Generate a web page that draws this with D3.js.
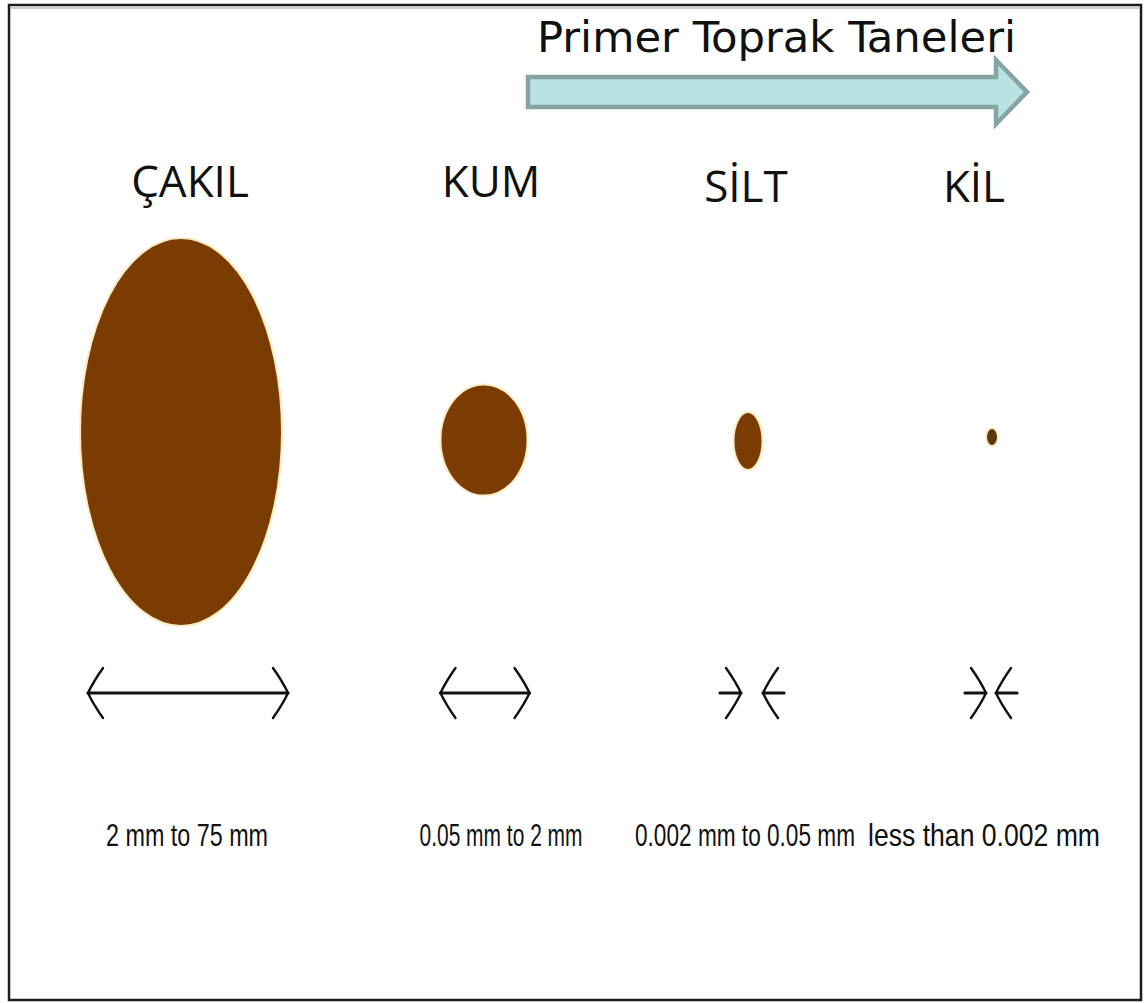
<!DOCTYPE html>
<html lang="tr">
<head>
<meta charset="UTF-8">
<title>Primer Toprak Taneleri</title>
<script src="https://cdn.jsdelivr.net/npm/d3@7"></script>
<style>
    html, body {
        margin: 0;
        background: #fff;
    }
    svg { display: block; }
</style>
</head>
<body>
<div id="chart"></div>
<script>
    // grain classes, left to right
    const categories = ["ÇAKIL", "KUM", "SİLT", "KİL"];
    const sizeRanges = ["2 mm to 75 mm", "0.05 mm to 2 mm", "0.002 mm to 0.05 mm", "less than 0.002 mm"];
    // drawn grain size (width / height of the dot, picture units)
    const grainWidth = [202, 87, 29, 12];
    const grainHeight = [388, 111, 58, 18];
    // width arrows under each grain
    const arrowSpan = [200, 89, 22, 10];
    const arrowKind = ["out", "out", "in", "in"];
    const title = "Primer Toprak Taneleri";

    const width = 1145;
    const height = 1003;

    // column layout (picture is not evenly spaced)
    const layout = {
        dotX: [181, 484, 748, 992],
        dotY: [432, 440, 441, 437],
        labelX: [190, 491, 746, 974],
        labelY: [197, 197, 202, 202],
        arrowX: [188, 485, 752, 991],
        captionX: [187, 501, 745, 984],
        captionW: [162, 163, 220, 232]
    };

    const dotX = d3.scaleOrdinal().domain(categories).range(layout.dotX);
    const dotY = d3.scaleOrdinal().domain(categories).range(layout.dotY);
    const labelX = d3.scaleOrdinal().domain(categories).range(layout.labelX);
    const labelY = d3.scaleOrdinal().domain(categories).range(layout.labelY);
    const arrowX = d3.scaleOrdinal().domain(categories).range(layout.arrowX);
    const captionX = d3.scaleOrdinal().domain(categories).range(layout.captionX);
    const captionW = d3.scaleOrdinal().domain(categories).range(layout.captionW);
    // grain size -> radius in pixels
    const r = d3.scaleLinear().domain([0, 100]).range([0, 50]);

    const rows = categories.map((c, i) => ({
        name: c,
        range: sizeRanges[i],
        w: grainWidth[i],
        h: grainHeight[i],
        span: arrowSpan[i],
        kind: arrowKind[i]
    }));

    const svg = d3.select("#chart").append("svg")
        .attr("width", width)
        .attr("height", height);

    // frame
    svg.append("rect")
        .attr("x", 9).attr("y", 5)
        .attr("width", 1132).attr("height", 995)
        .attr("fill", "#fff")
        .attr("stroke", "#1c1c1c")
        .attr("stroke-width", 2.5);
    svg.append("line")
        .attr("x1", 11).attr("x2", 1140)
        .attr("y1", 8).attr("y2", 8)
        .attr("stroke", "#bbb").attr("stroke-width", 1.5);

    // title + block arrow
    svg.append("text")
        .attr("x", 537).attr("y", 52)
        .attr("font-family", "'DejaVu Sans Condensed', 'DejaVu Sans', sans-serif")
        .attr("font-stretch", "condensed")
        .attr("font-size", 42)
        .attr("textLength", 479)
        .attr("lengthAdjust", "spacingAndGlyphs")
        .attr("fill", "#111")
        .text(title);

    const arrowPath = d3.path();
    arrowPath.moveTo(528, 77);
    arrowPath.lineTo(996, 77);
    arrowPath.lineTo(996, 60);
    arrowPath.lineTo(1027, 92);
    arrowPath.lineTo(996, 124);
    arrowPath.lineTo(996, 107);
    arrowPath.lineTo(528, 107);
    arrowPath.closePath();
    svg.append("path")
        .attr("d", arrowPath.toString())
        .attr("fill", "#b9e0e3")
        .attr("stroke", "#87a3a5")
        .attr("stroke-width", 4.5);

    // class names
    svg.append("g")
        .selectAll("text")
        .data(rows)
        .join("text")
        .attr("x", d => labelX(d.name))
        .attr("y", d => labelY(d.name))
        .attr("text-anchor", "middle")
        .attr("font-family", "'Open Sans', 'DejaVu Sans', sans-serif")
        .attr("font-size", 44)
        .attr("fill", "#111")
        .text(d => d.name);

    // grains
    svg.append("g")
        .selectAll("ellipse")
        .data(rows)
        .join("ellipse")
        .attr("cx", d => dotX(d.name))
        .attr("cy", d => dotY(d.name))
        .attr("rx", d => r(d.w))
        .attr("ry", d => r(d.h))
        .attr("fill", (d, i) => i === 3 ? "#5a3a0c" : "#7b3c04")
        .attr("stroke", "#fbecc4")
        .attr("stroke-width", 2);

    // width arrows
    const arrowY = 693;
    const armDx = 15, armDy = 25;
    function chevron(tipX, dir) {
        // dir = +1 points right, -1 points left
        const p = d3.path();
        p.moveTo(tipX - dir * armDx, arrowY - armDy);
        p.quadraticCurveTo(tipX - dir * armDx * 0.35, arrowY - armDy * 0.45, tipX, arrowY);
        p.quadraticCurveTo(tipX - dir * armDx * 0.35, arrowY + armDy * 0.45, tipX - dir * armDx, arrowY + armDy);
        return p.toString();
    }

    const ag = svg.append("g")
        .attr("fill", "none")
        .attr("stroke", "#111")
        .attr("stroke-linecap", "round");

    rows.forEach(d => {
        const cx = arrowX(d.name);
        const half = r(d.span * 2) / 2;
        if (d.kind === "out") {
            ag.append("line")
                .attr("x1", cx - half).attr("x2", cx + half)
                .attr("y1", arrowY).attr("y2", arrowY)
                .attr("stroke-width", 3.2);
            ag.append("path").attr("d", chevron(cx - half, -1)).attr("stroke-width", 2.4);
            ag.append("path").attr("d", chevron(cx + half, 1)).attr("stroke-width", 2.4);
        } else {
            const shaft = 21;
            ag.append("line")
                .attr("x1", cx - half - shaft).attr("x2", cx - half)
                .attr("y1", arrowY).attr("y2", arrowY)
                .attr("stroke-width", 3.2);
            ag.append("line")
                .attr("x1", cx + half).attr("x2", cx + half + shaft)
                .attr("y1", arrowY).attr("y2", arrowY)
                .attr("stroke-width", 3.2);
            ag.append("path").attr("d", chevron(cx - half, 1)).attr("stroke-width", 2.4);
            ag.append("path").attr("d", chevron(cx + half, -1)).attr("stroke-width", 2.4);
        }
    });

    // size ranges: narrow, tall face in the original -> small font stretched vertically
    svg.append("g")
        .selectAll("g")
        .data(rows)
        .join("g")
        .attr("transform", d => `translate(${captionX(d.name)},846) scale(1,1.4)`)
        .append("text")
        .attr("text-anchor", "middle")
        .attr("font-family", "'Liberation Sans', Arial, sans-serif")
        .attr("font-size", 22)
        .attr("textLength", d => captionW(d.name))
        .attr("lengthAdjust", "spacingAndGlyphs")
        .attr("fill", "#111")
        .text(d => d.range);
</script>
</body>
</html>
